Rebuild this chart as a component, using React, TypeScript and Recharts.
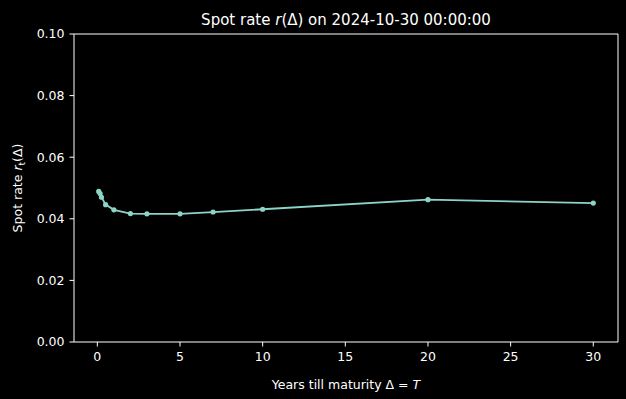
import React from 'react'
import { LineChart, Line, XAxis, YAxis, Label, ReferenceLine } from 'recharts'

// maturities in years and spot rates
const maturities = [0.0833, 0.1667, 0.25, 0.5, 1, 2, 3, 5, 7, 10, 20, 30]
const spotRates = [0.0489, 0.0482, 0.0470, 0.0446, 0.0429, 0.0417, 0.0416, 0.0416, 0.0422, 0.0431, 0.0462, 0.0451]
const xTicks = [0, 5, 10, 15, 20, 25, 30]
const yTicks = [0, 0.02, 0.04, 0.06, 0.08, 0.1]

const data = maturities.map((m, i) => ({ maturity: m, rate: spotRates[i] }))

const X_DOMAIN: [number, number] = [-1.412, 31.496]
const FONT = '"DejaVu Sans", sans-serif'
const LINE = '#8dd3c7'

const XLabel = (props: any) => {
  const { viewBox } = props
  const cx = viewBox.x + viewBox.width / 2
  return (
    <text x={cx} y={389} textAnchor="middle" fill="#fff" fontSize={12.5} fontFamily={FONT}>
      Years till maturity Δ = <tspan fontStyle="italic">T</tspan>
    </text>
  )
}

const YLabel = (props: any) => {
  const { viewBox } = props
  const cy = viewBox.y + viewBox.height / 2
  return (
    <text
      x={22}
      y={cy}
      transform={`rotate(-90, 22, ${cy})`}
      textAnchor="middle"
      fill="#fff"
      fontSize={12.5}
      fontFamily={FONT}
    >
      Spot rate <tspan fontStyle="italic">r</tspan>
      <tspan fontSize={9} dy={3}>t</tspan>
      <tspan dy={-3}>(Δ)</tspan>
    </text>
  )
}

export default function App() {
  return (
    <div style={{ position: 'fixed', left: 0, top: 0, width: 626, height: 399, background: '#000' }}>
      <div
        style={{
          position: 'absolute',
          left: 74,
          width: 544,
          top: 11,
          textAlign: 'center',
          color: '#fff',
          fontFamily: FONT,
          fontSize: 15,
          lineHeight: '18px',
        }}
      >
        Spot rate <i>r</i>(Δ) on 2024-10-30 00:00:00
      </div>
      <LineChart width={626} height={399} data={data} margin={{ top: 34, right: 8, bottom: 0, left: 0 }}>
        <XAxis
          dataKey="maturity"
          type="number"
          domain={X_DOMAIN}
          ticks={xTicks}
          allowDataOverflow
          height={57}
          stroke="#fff"
          tickSize={4.5}
          tickMargin={6}
          tick={{ fill: '#fff', fontSize: 12.5, fontFamily: FONT }}
        >
          <Label content={<XLabel />} />
        </XAxis>
        <YAxis
          type="number"
          domain={[0, 0.1]}
          ticks={yTicks}
          width={74}
          stroke="#fff"
          tickSize={4.5}
          tickMargin={5}
          tickFormatter={(v: number) => v.toFixed(2)}
          tick={{ fill: '#fff', fontSize: 12.5, fontFamily: FONT }}
        >
          <Label content={<YLabel />} />
        </YAxis>
        {/* top and right spines */}
        <ReferenceLine y={0.1} stroke="#fff" strokeWidth={1} ifOverflow="visible" />
        <ReferenceLine x={X_DOMAIN[1]} stroke="#fff" strokeWidth={1} ifOverflow="visible" />
        <Line
          type="linear"
          dataKey="rate"
          stroke={LINE}
          strokeWidth={1.8}
          dot={{ r: 2.6, fill: LINE, stroke: LINE, strokeWidth: 0 }}
          activeDot={false}
          isAnimationActive={false}
        />
      </LineChart>
    </div>
  )
}
